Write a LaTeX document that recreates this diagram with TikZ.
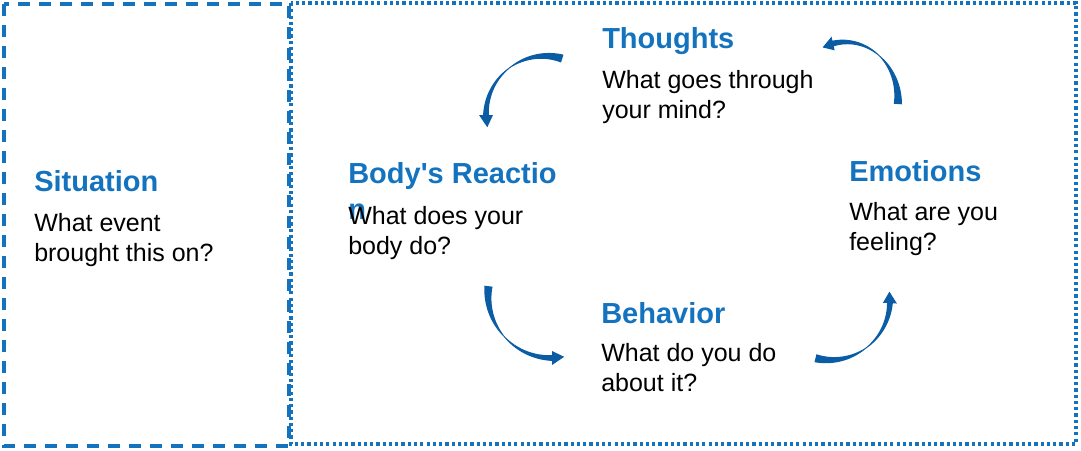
\documentclass[tikz,border=0pt]{standalone}
\usepackage{fontspec}
\setmainfont{Liberation Sans}
\usepackage{xcolor}
\usepackage{tikz}
\usetikzlibrary{positioning}
\definecolor{cbtblue}{RGB}{20,115,190}
\definecolor{cbtarrow}{RGB}{10,92,165}

% tapered circular arrow: centre x, centre y, x radius, y radius, tail angle, head angle, tip angle
\newcommand{\cyclearrow}[7]{%
  \fill[cbtarrow] plot[domain=#5:#6, samples=40] ({#1+(#3+taper((\x-(#5))/((#6)-(#5))))*cos(\x)}, {#2+(#4+taper((\x-(#5))/((#6)-(#5))))*sin(\x)})
    -- ({#1+(#3+7)*cos(#6)}, {#2+(#4+7)*sin(#6)})
    -- ({#1+#3*cos(#7)}, {#2+#4*sin(#7)})
    -- ({#1+(#3-7)*cos(#6)}, {#2+(#4-7)*sin(#6)})
    -- plot[domain=#6:#5, samples=40] ({#1+(#3-taper((\x-(#5))/((#6)-(#5))))*cos(\x)}, {#2+(#4-taper((\x-(#5))/((#6)-(#5))))*sin(\x)})
    -- cycle;}

\begin{document}
\begin{tikzpicture}[x=0.75pt, y=-0.75pt,
  declare function={taper(\t)=0.4+ifthenelse(\t<0.5,3.7*(1-2*\t),2.5*(2*\t-1));},
  title/.style={anchor=base west, inner sep=0pt, align=left, text=cbtblue, font=\bfseries\fontsize{21.75}{27}\selectfont},
  question/.style={anchor=base west, inner sep=0pt, align=left, font=\fontsize{18.75}{22.5}\selectfont},
  dashbox/.style={draw=cbtblue, line width=2.4pt, dash pattern=on 9pt off 6.75pt},
  dotbox/.style={draw=cbtblue, line width=2.6pt, dash pattern=on 2.4pt off 2.3pt}]
  \useasboundingbox (0,0) rectangle (1081,450);
  % frames
  \draw[dashbox] (4,4) rectangle (289,446);
  \draw[dotbox] (291,3) rectangle (1076,444);
  % arrows round the cycle
  \cyclearrow{545}{115}{59}{59}{-73}{-180}{-192}
  \cyclearrow{845}{100}{53}{58}{4}{-103}{-115}
  \cyclearrow{552}{294}{64}{64}{187}{90}{79}
  \cyclearrow{830}{300}{60}{60}{104}{3}{-8}
  % texts
  \node[title] (situation) at (34,191) {Situation};
  \node[question, below=52.5pt of situation.base west, anchor=base west] (situationq) {What event\\brought this on?};
  \node[title] (thoughts) at (602,48) {Thoughts};
  \node[question, below=53pt of thoughts.base west, anchor=base west] (thoughtsq) {What goes through\\your mind?};
  \node[title] (emotions) at (849,181) {Emotions};
  \node[question, below=52pt of emotions.base west, anchor=base west] (emotionsq) {What are you\\feeling?};
  \node[title] (body) at (348,219) {Body\textquotesingle s Reactio\\n};
  \node[question, below=26.25pt of body.base west, anchor=base west] (bodyq) {What does your\\body do?};
  \node[title] (behavior) at (601,323) {Behavior};
  \node[question, below=51.5pt of behavior.base west, anchor=base west] (behaviorq) {What do you do\\about it?};
\end{tikzpicture}
\end{document}
